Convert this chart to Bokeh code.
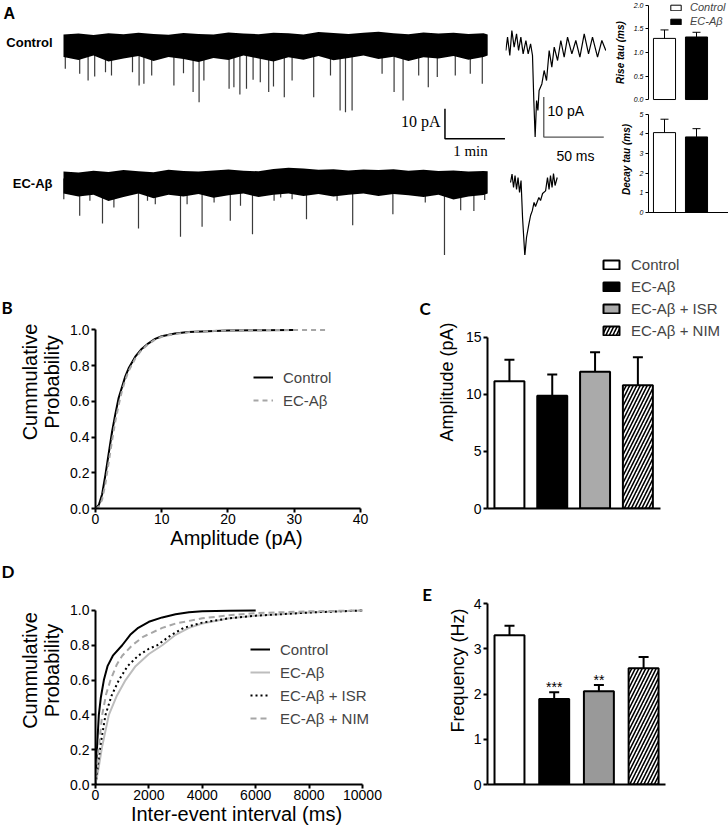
from bokeh.plotting import figure
from bokeh.layouts import row, column
from bokeh.models import Range1d, Legend, LegendItem, FixedTicker, PrintfTickFormatter
from bokeh.embed import file_html
from bokeh.resources import INLINE
from bokeh.core.properties import value

SANS = "Liberation Sans"
SERIF = "Liberation Serif"
LETTER = "Lato"

# ---------------- DATA ----------------
# Panel A: continuous recordings (time in min, current in pA relative to baseline)
env_t = [0.0, 0.25, 0.5, 0.75, 1.0, 1.25, 1.5, 1.75, 2.0, 2.25, 2.5, 2.75, 3.0, 3.25, 3.5,
         3.75, 4.0, 4.25, 4.5, 4.75, 5.0, 5.25, 5.5, 5.75, 6.0, 6.25, 6.5, 6.75, 7.0, 7.07]
ctrl_hi = [2.0, 2.3, 1.8, 2.4, 2.1, 2.6, 2.2, 1.9, 2.5, 2.2, 2.0, 2.7, 2.3, 2.1, 2.6,
           2.4, 2.0, 2.8, 2.5, 2.2, 2.6, 2.9, 2.4, 2.1, 2.7, 2.3, 2.6, 2.2, 2.4, 2.0]
ctrl_lo = [-5.5, -6.5, -5.0, -7.0, -6.0, -5.2, -6.8, -5.5, -6.2, -7.2, -5.8, -6.5, -5.0, -6.0, -7.0,
           -5.6, -6.4, -5.2, -6.6, -5.8, -5.0, -6.2, -5.4, -6.8, -5.6, -6.0, -5.2, -6.4, -5.5, -5.0]
ec_hi = [2.3, 2.0, 2.6, 2.2, 2.8, 2.4, 2.1, 2.9, 2.5, 2.3, 2.7, 3.0, 2.6, 2.4, 3.2,
         3.6, 3.3, 2.9, 3.1, 2.7, 3.0, 2.8, 3.1, 2.6, 2.9, 2.5, 2.7, 2.3, 2.5, 2.4]
ec_lo = [-5.0, -6.0, -5.4, -7.5, -6.2, -5.0, -6.6, -5.4, -6.0, -5.2, -6.4, -5.6, -5.0, -6.2, -5.4,
         -5.0, -5.8, -5.2, -6.0, -5.4, -5.0, -5.8, -5.2, -5.6, -6.2, -5.4, -7.0, -6.0, -5.5, -5.0]
ctrl_evt_t = [0.03, 0.27, 0.41, 0.52, 0.70, 0.80, 0.92, 1.15, 1.26, 1.34, 1.47, 1.84, 2.00, 2.16,
              2.26, 2.34, 2.76, 2.84, 2.94, 3.05, 3.16, 3.28, 3.42, 3.50, 3.68, 3.81, 4.17, 4.45,
              4.61, 4.70, 4.81, 5.31, 5.51, 5.66, 5.92, 6.08, 6.23, 6.53, 6.78, 6.98]
ctrl_evt_amp = [-9.4, -11.1, -13.3, -12.0, -10.6, -11.7, -5.0, -10.6, -15.0, -14.4, -11.7, -15.0,
                -10.9, -17.2, -20.6, -13.3, -16.1, -15.6, -18.0, -16.1, -13.1, -13.9, -17.2, -15.3,
                -18.9, -13.3, -18.9, -11.7, -23.3, -23.9, -23.3, -11.1, -17.2, -20.0, -11.7, -15.6,
                -12.2, -11.7, -11.1, -14.4]
ec_evt_t = [0.005, 0.27, 0.44, 0.65, 0.84, 1.25, 1.40, 1.53, 1.95, 2.06, 2.31, 2.51, 2.78, 2.95,
            3.15, 3.51, 3.62, 3.81, 4.05, 4.56, 4.82, 5.49, 6.03, 6.35, 6.62, 6.84, 7.02]
ec_evt_amp = [-6.9, -12.4, -7.4, -15.0, -9.7, -16.7, -7.4, -8.6, -19.4, -8.6, -16.1, -8.0, -14.1,
              -9.1, -18.6, -7.4, -6.3, -6.9, -13.6, -7.4, -15.6, -11.9, -8.0, -27.7, -10.6, -10.8, -7.2]

# Panel A: averaged single events (time in ms, current in pA)
ctrl_avg_ms = [0, 1.4, 3.3, 5.0, 6.9, 8.9, 10.6, 12.5, 14.4, 16.7, 18.6, 20.6, 22.2, 23.3, 24.4,
               25.6, 26.7, 27.7, 30.0, 31.9, 33.9, 36.1, 38.3, 40.3, 43.1, 45.8, 48.6, 51.4, 55.0,
               58.3, 61.7, 65.3, 68.9, 72.2, 76.4, 80.0, 83.3]
ctrl_avg_pa = [-1.25, 2.1, -2.5, 3.75, -0.4, 2.9, -1.25, 2.1, -2.1, 1.25, -2.1, 0.4, -2.5, -13.75,
               -22.9, -13.75, -16.25, -11.25, -9.6, -6.25, -8.75, -1.25, -5.4, -0.4, -3.75, 1.25,
               -2.9, 2.1, -2.1, 1.25, -2.9, 2.9, -2.1, 2.1, -2.9, 1.25, -1.25]
ec_avg_ms = [0, 1.25, 2.5, 3.75, 5.0, 6.25, 7.5, 8.75, 10.0, 11.9, 13.3, 15.3, 16.7, 18.1, 19.6,
             20.8, 23.6, 25.0, 26.7, 29.2, 30.8, 32.1, 33.3, 34.6, 35.8, 37.1, 38.9]
ec_avg_pa = [0, 2.1, -1.25, 1.75, -1.75, 1.25, -2.5, 0.5, -8.75, -18.3, -13.75, -10.4, -8.25, -7.1,
             -5.0, -6.0, -3.75, -4.5, -2.75, -2.1, 1.25, -1.75, 1.75, -1.25, 2.25, -0.75, 1.25]

# Panel A insets: kinetics
tau_groups = ["Control", "EC-Aβ"]
rise_mean = [1.30, 1.33]
rise_sem = [0.18, 0.10]
decay_mean = [4.06, 3.84]
decay_sem = [0.68, 0.42]

# Panel B: cumulative amplitude distributions
amp_ctrl_x = [0, 0.5, 1.0, 1.5, 2.0, 2.5, 3.0, 3.5, 4.0, 4.5, 5.0, 6.0, 7.0, 8.0, 9.0, 10.0,
              12.0, 14.0, 16.0, 20.0, 25.0, 30.0]
amp_ctrl_y = [0, 0.02, 0.08, 0.19, 0.31, 0.43, 0.53, 0.62, 0.68, 0.74, 0.785, 0.85, 0.895, 0.925,
              0.95, 0.965, 0.98, 0.988, 0.992, 0.997, 0.999, 1.0]
amp_ec_x = [0, 0.5, 1.0, 1.5, 2.0, 2.5, 3.0, 3.5, 4.0, 4.5, 5.0, 6.0, 7.0, 8.0, 9.0, 10.0,
            12.0, 14.0, 16.0, 20.0, 25.0, 30.0, 35.0]
amp_ec_y = [0, 0.01, 0.05, 0.14, 0.26, 0.38, 0.49, 0.58, 0.66, 0.72, 0.77, 0.84, 0.89, 0.922,
            0.946, 0.962, 0.978, 0.987, 0.992, 0.997, 0.999, 1.0, 1.0]

# Panels C and E: group bars
groups = ["Control", "EC-Aβ", "EC-Aβ + ISR", "EC-Aβ + NIM"]
amp_mean = [11.17, 9.88, 12.0, 10.8]
amp_sem = [1.87, 1.87, 1.7, 2.47]
freq_mean = [3.30, 1.89, 2.06, 2.57]
freq_sem = [0.21, 0.15, 0.14, 0.25]
freq_sig = ["", "***", "**", ""]

# Panel D: cumulative inter-event intervals
iei_ctrl_x = [0, 60, 125, 200, 313, 450, 650, 1000, 1300, 1600, 2000, 2500, 3000, 3500, 4000, 5000, 6000]
iei_ctrl_y = [0, 0.22, 0.40, 0.50, 0.60, 0.68, 0.74, 0.80, 0.86, 0.90, 0.935, 0.96, 0.978, 0.99, 0.996, 0.999, 1.0]
iei_ec_x = [0, 100, 250, 500, 800, 1125, 1500, 2000, 2500, 3000, 3500, 4000, 5000, 6000, 8000, 10000]
iei_ec_y = [0, 0.08, 0.22, 0.40, 0.51, 0.60, 0.68, 0.75, 0.80, 0.86, 0.90, 0.925, 0.955, 0.97, 0.988, 1.0]
iei_isr_x = [0, 100, 200, 375, 600, 875, 1200, 1600, 2000, 2313, 2800, 3300, 4000, 5000, 6000, 8000, 10000]
iei_isr_y = [0, 0.12, 0.24, 0.40, 0.51, 0.60, 0.68, 0.74, 0.78, 0.80, 0.855, 0.90, 0.93, 0.955, 0.97, 0.988, 1.0]
iei_nim_x = [0, 100, 250, 400, 563, 800, 1000, 1375, 1800, 2500, 3000, 4000, 5000, 6000, 8000, 10000]
iei_nim_y = [0, 0.18, 0.40, 0.52, 0.60, 0.69, 0.74, 0.80, 0.85, 0.90, 0.925, 0.955, 0.972, 0.985, 0.995, 1.0]

# ---------------- STYLE ----------------
fill_C = ["white", "black", "#aaaaaa", "white"]
fill_E = ["white", "black", "#999999", "white"]
hatch = [None, None, None, "/"]


def base_fig(**kw):
    p = figure(toolbar_location=None, output_backend="svg", **kw)
    p.grid.visible = False
    p.outline_line_color = None
    return p


def style_axes(p, tick_size="14px", label_size="20px", lw=2, tick_out=5, label_style="normal"):
    for ax in p.axis:
        ax.axis_line_width = lw
        ax.major_tick_line_width = lw
        ax.major_tick_out = tick_out
        ax.major_tick_in = 0
        ax.minor_tick_line_color = None
        ax.major_label_text_font = SANS
        ax.major_label_text_font_size = tick_size
        ax.major_label_text_color = "black"
        ax.major_label_standoff = 2
        ax.axis_label_text_font = SANS
        ax.axis_label_text_font_size = label_size
        ax.axis_label_text_font_style = label_style
        ax.axis_label_text_color = "black"


def letter_fig(width, height, bottom_border, letter, lx, ly):
    # narrow strip whose data space is in pixels (y downwards from the row top)
    frame_h = height - bottom_border
    p = base_fig(width=width, height=height, x_range=Range1d(0, width), y_range=Range1d(frame_h, 0),
                 x_axis_location=None, y_axis_location=None,
                 min_border_left=0, min_border_right=0, min_border_top=0, min_border_bottom=bottom_border)
    p.text(x=[lx], y=[ly], text=[letter], text_font=value(LETTER), text_font_style="bold",
           text_font_size="17px", text_align="left", text_baseline="top")
    return p


def bars(p, means, sems, fills, hatches, width, cap, lw):
    xs = list(range(1, len(means) + 1))
    rs = []
    for i in range(len(means)):
        kw = {}
        if hatches[i]:
            kw = dict(hatch_pattern=hatches[i], hatch_scale=7, hatch_weight=1.6, hatch_color="black")
        rs.append(p.vbar(x=[xs[i]], top=[means[i]], bottom=0, width=width, fill_color=fills[i],
                         line_color="black", line_width=lw, **kw))
    tops = [m + s for m, s in zip(means, sems)]
    p.segment(x0=xs, y0=means, x1=xs, y1=tops, line_color="black", line_width=lw)
    p.scatter(x=xs, y=tops, marker="dash", size=cap, line_color="black", line_width=lw)
    return rs, xs, tops


def legend(items, loc, **kw):
    opts = dict(location=loc, padding=0, margin=0, border_line_color=None, background_fill_alpha=0,
                label_text_font=SANS, label_text_font_size="15px", glyph_width=20, label_standoff=10,
                spacing=3)
    opts.update(kw)
    return Legend(items=[LegendItem(label=l, renderers=[r]) for l, r in items], **opts)


def cum_axes(p, xticks, xlabel):
    style_axes(p, tick_out=4)
    p.xaxis.ticker = FixedTicker(ticks=xticks)
    p.xaxis.bounds = (xticks[0], xticks[-1])
    p.yaxis.ticker = FixedTicker(ticks=[0, 0.2, 0.4, 0.6, 0.8, 1.0])
    p.yaxis.formatter = PrintfTickFormatter(format="%.1f")
    p.yaxis.bounds = (0, 1)
    p.xaxis.axis_label = xlabel
    p.yaxis.axis_label = "Cummulative\nProbability"
    p.yaxis.axis_label_text_line_height = 1.0
    p.xaxis.axis_label_standoff = 0
    p.xaxis.major_label_standoff = 1
    p.yaxis.axis_label_standoff = 4


# ---------------- ROW 1 / PANEL A: traces ----------------
ROW1_H = 255
EC_OFF = -46.0
fig_tr = base_fig(width=505, height=ROW1_H, x_range=Range1d(-1.05, 7.367), y_range=Range1d(-71.67, 13.33),
                  x_axis_location=None, y_axis_location=None, min_border=0)
for hi, lo, st, sa, off in [(ctrl_hi, ctrl_lo, ctrl_evt_t, ctrl_evt_amp, 0.0),
                            (ec_hi, ec_lo, ec_evt_t, ec_evt_amp, EC_OFF)]:
    fig_tr.segment(x0=st, y0=[off] * len(st), x1=st, y1=[a + off for a in sa],
                   line_color="#3a3a3a", line_width=1.2)
    fig_tr.varea(x=env_t, y1=[v + off for v in lo], y2=[v + off for v in hi], fill_color="black")
fig_tr.text(x=[-0.183, -0.183], y=[-0.7, EC_OFF - 1.6], text=["Control", "EC-Aβ"],
            text_font=value(SANS), text_font_style="bold", text_font_size="13px",
            text_align="right", text_baseline="middle")
fig_tr.text(x=[-1.0], y=[11.9], text=["A"], text_font=value(SANS), text_font_style="bold",
            text_font_size="16px", text_align="left", text_baseline="top")
fig_tr.line(x=[6.358, 6.358, 7.358], y=[-22.77, -32.77, -32.77], line_color="black", line_width=1.5)
fig_tr.text(x=[6.283], y=[-27.0], text=["10 pA"], text_font=value(SERIF), text_font_size="16px",
            text_align="right", text_baseline="middle")
fig_tr.text(x=[6.783], y=[-36.7], text=["1 min"], text_font=value(SERIF), text_font_size="15px",
            text_align="center", text_baseline="middle")

# averaged events
EV_OFF = -34.25
fig_ev = base_fig(width=101, height=ROW1_H, x_range=Range1d(-0.3, 83.87), y_range=Range1d(-52.5, 11.25),
                  x_axis_location=None, y_axis_location=None, min_border=0)
fig_ev.line(x=ctrl_avg_ms, y=ctrl_avg_pa, line_color="black", line_width=1.2)
fig_ev.line(x=[t + 3.9 for t in ec_avg_ms], y=[v + EV_OFF for v in ec_avg_pa], line_color="black", line_width=1.2)
fig_ev.line(x=[31.6, 31.6, 81.6], y=[-12.9, -22.9, -22.9], line_color="#555555", line_width=1.3)
fig_ev.text(x=[34.7], y=[-16.25], text=["10 pA"], text_font=value(SANS), text_font_size="14px",
            text_align="left", text_baseline="middle")
fig_ev.text(x=[58.0], y=[-27.5], text=["50 ms"], text_font=value(SANS), text_font_size="14px",
            text_align="center", text_baseline="middle")


# rise / decay insets
def tau_fig(height, y_range, bottom, label, ticks, fmt, with_x):
    p = base_fig(width=122, height=height, x_range=Range1d(0.5, 3.0), y_range=y_range,
                 x_axis_location="below" if with_x else None,
                 min_border_left=42, min_border_right=0, min_border_top=0, min_border_bottom=bottom)
    style_axes(p, tick_size="7px", label_size="10px", lw=1, tick_out=3)
    p.yaxis.major_label_text_font_style = "italic"
    p.yaxis.axis_label = label
    p.yaxis.axis_label_text_font_style = "bold italic"
    p.yaxis.axis_label_standoff = 5
    p.yaxis.ticker = FixedTicker(ticks=ticks)
    p.yaxis.formatter = PrintfTickFormatter(format=fmt)
    p.yaxis.bounds = (ticks[0], ticks[-1])
    if with_x:
        p.xaxis.ticker = FixedTicker(ticks=[])
        p.xaxis.major_label_text_font_size = "0px"
        p.xaxis.major_tick_out = 0
        p.xaxis.major_label_standoff = 0
    return p


fig_rise = tau_fig(106, Range1d(-0.106, 2.106), 2, "Rise tau (ms)", [0, 0.5, 1.0, 1.5, 2.0], "%.1f", False)
rr, _, _ = bars(fig_rise, rise_mean, rise_sem, ["white", "black"], [None, None], 0.69, 8, 1)
fig_rise.add_layout(legend(list(zip(tau_groups, rr)), (21, 77), glyph_width=13, glyph_height=7,
                           label_standoff=8, label_text_font_size="11px", label_text_font_style="italic",
                           label_height=12, spacing=2))
fig_decay = tau_fig(116, Range1d(0, 5.386), 10, "Decay tau (ms)", [0, 1, 2, 3, 4, 5], "%d", True)
bars(fig_decay, decay_mean, decay_sem, ["white", "black"], [None, None], 0.69, 8, 1)

# ---------------- ROW 2: panels B and C ----------------
ROW2_H = 301
B2 = 48  # common bottom border of row 2 (frame bottom at y = 508)
fig_b = base_fig(width=402, height=ROW2_H, x_range=Range1d(0, 42.57), y_range=Range1d(0, 1.417),
                 min_border_left=80, min_border_right=40, min_border_top=0, min_border_bottom=B2)
rb1 = fig_b.line(amp_ctrl_x, amp_ctrl_y, line_color="black", line_width=2)
rb2 = fig_b.line(amp_ec_x, amp_ec_y, line_color="#a6a6a6", line_width=2, line_dash="5 4")
cum_axes(fig_b, [0, 10, 20, 30, 40], "Amplitude (pA)")
fig_b.add_layout(legend([("Control", rb1), ("EC-Aβ", rb2)], (158, 98), label_height=17))

fig_c = base_fig(width=294, height=ROW2_H, x_range=Range1d(0.488, 6.093), y_range=Range1d(0, 22.19),
                 min_border_left=53, min_border_right=0, min_border_top=0, min_border_bottom=B2)
style_axes(fig_c, label_size="18px", tick_out=4)
rc, _, _ = bars(fig_c, amp_mean, amp_sem, fill_C, hatch, 0.70, 10, 2)
fig_c.xaxis.ticker = FixedTicker(ticks=[])
fig_c.xaxis.major_label_text_font_size = "0px"
fig_c.xaxis.bounds = (0.488, 4.535)
fig_c.yaxis.ticker = FixedTicker(ticks=[0, 5, 10, 15])
fig_c.yaxis.bounds = (0, 15)
fig_c.yaxis.axis_label = "Amplitude (pA)"
fig_c.yaxis.axis_label_standoff = 6
fig_c.add_layout(legend(list(zip(groups, rc)), (114, 168), glyph_height=11, label_height=19))

# ---------------- ROW 3: panels D and E ----------------
ROW3_H = 278
B3 = 50  # common bottom border of row 3 (frame bottom at y = 784)
fig_d = base_fig(width=402, height=ROW3_H, x_range=Range1d(0, 10562), y_range=Range1d(0, 1.31),
                 min_border_left=80, min_border_right=40, min_border_top=0, min_border_bottom=B3)
rd = [fig_d.line(iei_ctrl_x, iei_ctrl_y, line_color="black", line_width=2),
      fig_d.line(iei_ec_x, iei_ec_y, line_color="#bdbdbd", line_width=2),
      fig_d.line(iei_isr_x, iei_isr_y, line_color="black", line_width=2, line_dash="2 3"),
      fig_d.line(iei_nim_x, iei_nim_y, line_color="#a6a6a6", line_width=2, line_dash="6 4")]
cum_axes(fig_d, [0, 2000, 4000, 6000, 8000, 10000], "Inter-event interval (ms)")
fig_d.add_layout(legend(list(zip(groups, rd)), (155, 56), label_height=19))

fig_e = base_fig(width=294, height=ROW3_H, x_range=Range1d(0.508, 5.877), y_range=Range1d(0, 5.039),
                 min_border_left=54, min_border_right=0, min_border_top=0, min_border_bottom=B3)
style_axes(fig_e, label_size="18px", tick_out=4)
_, xe, te = bars(fig_e, freq_mean, freq_sem, fill_E, hatch, 0.67, 10, 2)
fig_e.text(x=xe, y=te, text=freq_sig, text_font=value(SANS), text_font_size="14px",
           text_align="center", text_baseline="middle", y_offset=-5)
fig_e.xaxis.ticker = FixedTicker(ticks=[])
fig_e.xaxis.major_label_text_font_size = "0px"
fig_e.xaxis.bounds = (0.508, 4.49)
fig_e.yaxis.ticker = FixedTicker(ticks=[0, 1, 2, 3, 4])
fig_e.yaxis.bounds = (0, 4)
fig_e.yaxis.axis_label = "Frequency (Hz)"
fig_e.yaxis.axis_label_standoff = 3

# panel letters (strips beside the plots)
let_b = letter_fig(15, ROW2_H, B2, "B", 1, 41)
let_c = letter_fig(16, ROW2_H, B2, "C", 2, 42)
let_d = letter_fig(15, ROW3_H, B3, "D", 1, 4)
let_e = letter_fig(16, ROW3_H, B3, "E", 4.7, 27)

layout = column(row(fig_tr, fig_ev, column(fig_rise, fig_decay)),
                row(let_b, fig_b, let_c, fig_c),
                row(let_d, fig_d, let_e, fig_e))

open("out.html", "w").write(file_html(layout, INLINE))
